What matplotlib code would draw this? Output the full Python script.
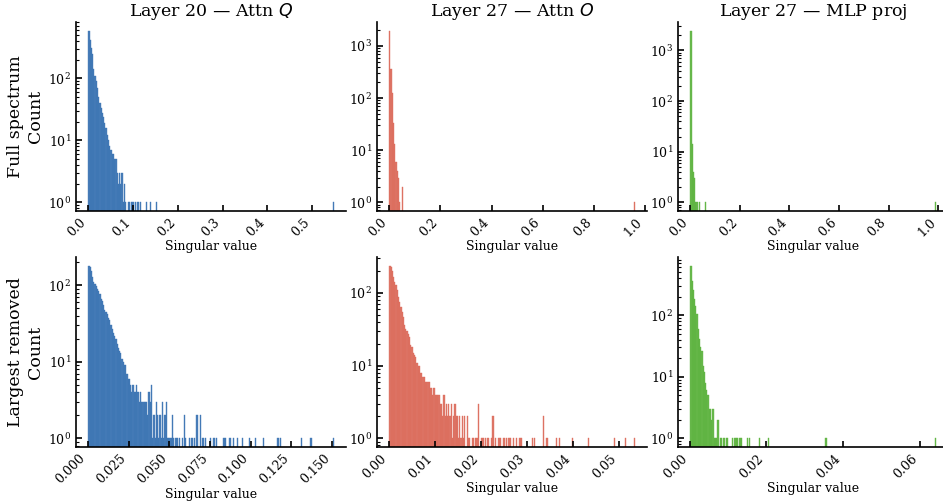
import numpy as np
import matplotlib
matplotlib.use("Agg")
import matplotlib.pyplot as plt
from matplotlib.ticker import MultipleLocator

plt.rcParams["font.family"] = "DejaVu Serif"
plt.rcParams["mathtext.fontset"] = "dejavusans"

N_BINS = 200

TITLES = [r"Layer 20 $\mathbf{—}$ Attn $Q$", r"Layer 27 $\mathbf{—}$ Attn $O$",
          r"Layer 27 $\mathbf{—}$ MLP proj"]
ROW_LABELS = ["Full spectrum\nCount", "Largest removed\nCount"]
COLORS = ["#3a73b3", "#dc6b5b", "#5cb33e"]

# singular value range covered by the histogram bins (lo, hi)
RANGE_FULL = [(0.0005, 0.548), (0.0002, 0.960), (0.0002, 0.990)]
RANGE_REMOVED = [(0.0002, 0.151), (0.0001, 0.0535), (0.0002, 0.0641)]
XSTEP_FULL = [0.1, 0.2, 0.2]
XSTEP_REMOVED = [0.025, 0.01, 0.02]

# --- bin counts (first bins dense, then isolated bins) ---
Q_FULL_HEAD = [590, 420, 310, 245, 140, 110, 90, 70, 50, 40,
               33, 28, 24, 19, 16, 12, 10, 8, 7, 6,
               6, 5, 5, 3, 2, 3, 2, 3, 1, 2, 1]
Q_FULL_TAIL_BINS = [32, 33, 35, 36, 38, 40, 42, 47, 50, 55, 199]
Q_FULL_TAIL_COUNTS = [1, 1, 1, 1, 1, 1, 1, 1, 1, 1, 1]

O_FULL_HEAD = [1970, 368, 127, 33, 13, 6, 4, 3, 1, 0, 2]
O_FULL_TAIL_BINS = [199]
O_FULL_TAIL_COUNTS = [1]

MLP_FULL_HEAD = [2470, 14, 4, 3, 1, 1, 0, 1]
MLP_FULL_TAIL_BINS = [12, 199]
MLP_FULL_TAIL_COUNTS = [1, 1]

Q_REM_HEAD = [180, 171, 153, 129, 111, 105, 98, 90, 83, 77,
              67, 62, 55, 48, 45, 42, 37, 35, 30, 27,
              24, 22, 20, 17, 15, 14, 13, 11, 10, 9,
              9, 7, 6, 6, 5, 4, 5, 4, 4, 5,
              4, 3, 4, 3, 3, 3, 3, 3, 2, 4,
              3, 5, 1, 2, 1, 3, 2, 1, 2, 1,
              3, 1, 2, 3, 1, 1, 1, 1, 2, 1,
              0, 1, 1, 0, 1, 0, 1, 0, 2, 1]
Q_REM_TAIL_BINS = [82, 84, 86, 88, 91, 93, 95, 99, 102, 104, 110, 111,
                   115, 118, 121, 125, 131, 136, 142, 154, 156, 173, 181, 199]
Q_REM_TAIL_COUNTS = [1, 1, 1, 2, 2, 1, 1, 1, 1, 1, 1, 1,
                     1, 1, 1, 1, 1, 1, 1, 1, 1, 1, 1, 1]

O_REM_HEAD = [237, 225, 200, 167, 142, 128, 109, 88, 75, 64,
              54, 46, 36, 32, 30, 27, 25, 19, 18, 15,
              14, 13, 11, 10, 10, 8, 8, 7, 7, 6,
              6, 6, 6, 5, 5, 4, 5, 4, 4, 4,
              4, 3, 3, 2, 4, 2, 3, 2, 3, 2,
              3, 1, 2, 3, 2, 2, 1, 2, 1, 2,
              1, 2, 0, 2, 1, 1, 0, 1, 1, 0,
              1, 1, 3]
O_REM_TAIL_BINS = [75, 76, 78, 80, 83, 84, 86, 89, 90, 93, 95, 97, 98, 101,
                   103, 106, 107, 116, 118, 125, 128, 136, 138, 149, 162, 183, 192, 199]
O_REM_TAIL_COUNTS = [1, 1, 1, 1, 1, 2, 1, 1, 1, 1, 1, 1, 1, 1,
                     1, 1, 1, 1, 1, 2, 1, 1, 1, 1, 1, 1, 1, 1]

MLP_REM_HEAD = [641, 363, 259, 187, 142, 104, 59, 41, 31, 26,
                15, 12, 8, 6, 5, 3, 3, 2, 3, 1,
                1, 1, 2, 0, 1, 1, 0, 1, 0, 1, 1]
MLP_REM_TAIL_BINS = [34, 36, 37, 38, 40, 41, 46, 48, 56, 63, 110, 199]
MLP_REM_TAIL_COUNTS = [1, 1, 1, 1, 1, 1, 1, 1, 1, 1, 1, 1]

FULL = [(Q_FULL_HEAD, Q_FULL_TAIL_BINS, Q_FULL_TAIL_COUNTS),
        (O_FULL_HEAD, O_FULL_TAIL_BINS, O_FULL_TAIL_COUNTS),
        (MLP_FULL_HEAD, MLP_FULL_TAIL_BINS, MLP_FULL_TAIL_COUNTS)]
REMOVED = [(Q_REM_HEAD, Q_REM_TAIL_BINS, Q_REM_TAIL_COUNTS),
           (O_REM_HEAD, O_REM_TAIL_BINS, O_REM_TAIL_COUNTS),
           (MLP_REM_HEAD, MLP_REM_TAIL_BINS, MLP_REM_TAIL_COUNTS)]


def bin_counts(head, tail_bins, tail_counts):
    counts = np.zeros(N_BINS)
    counts[:len(head)] = head
    counts[tail_bins] = tail_counts
    return counts


def draw_hist(ax, spec, rng, color, xstep):
    counts = bin_counts(*spec)
    edges = np.linspace(rng[0], rng[1], N_BINS + 1)
    centers = 0.5 * (edges[:-1] + edges[1:])
    ax.hist(centers, bins=edges, weights=counts, log=True,
            color=color, alpha=0.92, edgecolor=color, linewidth=0.3)
    ax.xaxis.set_major_locator(MultipleLocator(xstep))
    ax.spines["top"].set_visible(False)
    ax.spines["right"].set_visible(False)
    for s in ("left", "bottom"):
        ax.spines[s].set_linewidth(1.2)
    ax.tick_params(which="both", direction="in", labelsize=9)
    ax.tick_params(which="major", length=4, width=1.2)
    ax.tick_params(which="minor", length=2, width=0.8)
    for lab in ax.get_xticklabels():
        lab.set_rotation(45)
        lab.set_ha("right")
    ax.set_xlabel("Singular value", fontsize=9, labelpad=1)


W, H = 943, 503
fig = plt.figure(figsize=(W / 100, H / 100), dpi=100)

# panels are all the same width; the right column runs past the figure edge
col_x = [(76, 346), (377, 647), (678, 948)]
row_y = [(22, 211), (257, 447)]

for r, (specs, ranges, steps) in enumerate([(FULL, RANGE_FULL, XSTEP_FULL),
                                             (REMOVED, RANGE_REMOVED, XSTEP_REMOVED)]):
    for c in range(3):
        x0, x1 = col_x[c]
        y0, y1 = row_y[r]
        ax = fig.add_axes([x0 / W, 1 - y1 / H, (x1 - x0) / W, (y1 - y0) / H])
        draw_hist(ax, specs[c], ranges[c], COLORS[c], steps[c])
        if r == 0:
            ax.set_title(TITLES[c], fontsize=12.5, pad=4)
        if c == 0:
            ax.set_ylabel(ROW_LABELS[r], fontsize=12.5, labelpad=3)

fig.savefig("out.png", dpi=100)
